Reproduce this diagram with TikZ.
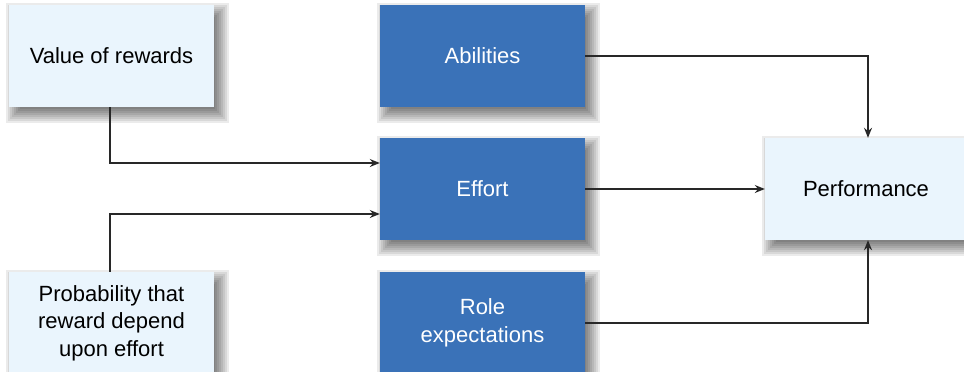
\documentclass[tikz,border=0pt]{standalone}
\usepackage{fontspec}
\setmainfont{Liberation Sans}
\usetikzlibrary{arrows.meta,calc}
\definecolor{lightbox}{RGB}{234,245,253}
\definecolor{bluebox}{RGB}{58,114,184}
\definecolor{linegray}{RGB}{40,40,40}
\pgfdeclarelayer{shadowlayer}
\pgfsetlayers{shadowlayer,main}
\tikzset{
  basebox/.style={minimum width=205pt, minimum height=102pt, inner sep=0pt, align=center,
    font=\fontsize{22}{27.5}\selectfont},
  lightnode/.style={basebox, fill=lightbox, text=black},
  bluenode/.style={basebox, fill=bluebox, text=white},
  conn/.style={draw=linegray, line width=1.3pt, -{Stealth[length=10pt,width=8pt]}},
  shadowstep/.style={fill=black, fill opacity=0.08}
}
\newcommand{\boxshadow}[1]{%
  \foreach \r in {9,7,...,-9}{%
    \fill[shadowstep] ($(#1.south west)+(6-\r,7+\r)$) rectangle ($(#1.north east)+(6+\r,7-\r)$);
  }}
\begin{document}
\begin{tikzpicture}[x=1pt,y=-1pt]
\useasboundingbox (0,0) rectangle (964,372);
\clip (0,0) rectangle (964,372);
\node[lightnode] (value) at (111.5,56) {Value of rewards};
\node[lightnode] (prob) at (111.5,323) {Probability that\\reward depend\\upon effort};
\node[bluenode] (abil) at (482.5,56) {Abilities};
\node[bluenode] (effort) at (482.5,189) {Effort};
\node[bluenode] (role) at (482.5,323) {Role\\expectations};
\node[lightnode, minimum width=202pt] (perf) at (866,189) {Performance};
\begin{pgfonlayer}{shadowlayer}
  \fill[white] (0,0) rectangle (964,372);
  \boxshadow{value}
  \boxshadow{prob}
  \boxshadow{abil}
  \boxshadow{effort}
  \boxshadow{role}
  \boxshadow{perf}
\end{pgfonlayer}
\coordinate (pv) at (effort.west |- 0,163);
\coordinate (pp) at (effort.west |- 0,214);
\draw[conn] (value.south -| 110,0) |- (pv);
\draw[conn] (prob.north -| 110,0) |- (pp);
\draw[conn] (abil.east) -| (perf.north -| 868,0);
\draw[conn] (effort.east) -- (perf.west);
\draw[conn] (role.east) -| (perf.south -| 868,0);
\end{tikzpicture}
\end{document}
